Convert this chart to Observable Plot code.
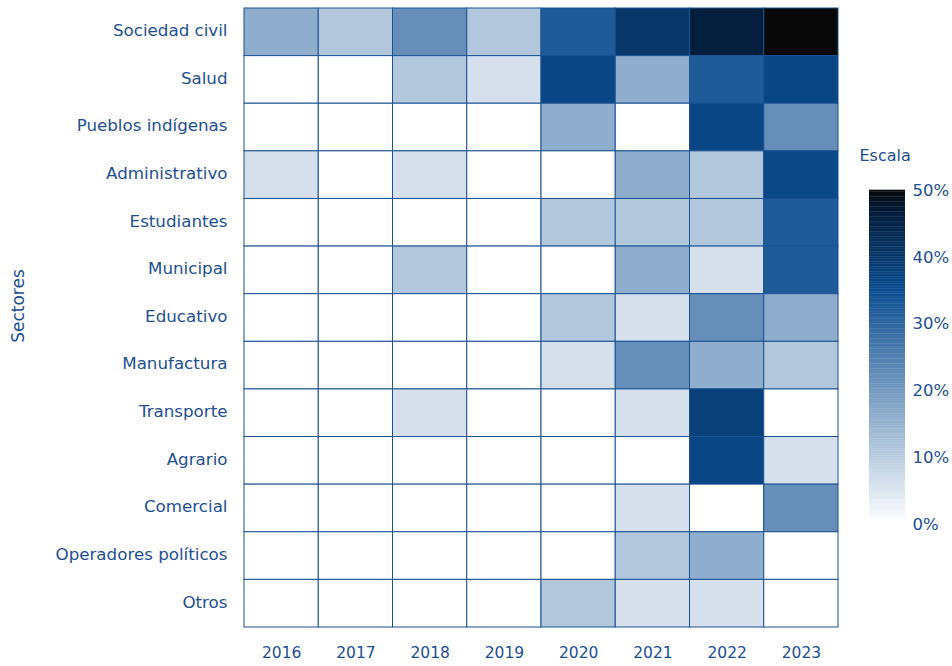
<!DOCTYPE html>
<html>
<head>
<meta charset="utf-8">
<script src="https://cdn.jsdelivr.net/npm/d3@7"></script>
<script src="https://cdn.jsdelivr.net/npm/@observablehq/plot@0.6"></script>
<style>
  html, body { margin: 0; padding: 0; background: #fff; }
  #wrap { position: relative; width: 952px; height: 666px; }
  #legend { position: absolute; left: 840px; top: 130px; }
  svg { overflow: visible; }
</style>
</head>
<body>
<div id="wrap"><div id="main"></div><div id="legend"></div></div>
<script>
const years = ["2016", "2017", "2018", "2019", "2020", "2021", "2022", "2023"];
const sectors = ["Sociedad civil", "Salud", "Pueblos indígenas", "Administrativo", "Estudiantes",
  "Municipal", "Educativo", "Manufactura", "Transporte", "Agrario", "Comercial",
  "Operadores políticos", "Otros"];

const sociedadCivil = [16, 11, 22, 11, 32, 40, 46, 50];
const salud = [0, 0, 11, 6, 36.5, 16, 32, 36.5];
const pueblosIndigenas = [0, 0, 0, 0, 16, 0, 36.5, 22];
const administrativo = [6, 0, 6, 0, 0, 16, 11, 36];
const estudiantes = [0, 0, 0, 0, 11, 11, 11, 32];
const municipal = [0, 0, 11, 0, 0, 16, 6, 32];
const educativo = [0, 0, 0, 0, 11, 6, 22, 16];
const manufactura = [0, 0, 0, 0, 6, 22, 16, 11];
const transporte = [0, 0, 6, 0, 0, 6, 38, 0];
const agrario = [0, 0, 0, 0, 0, 0, 36.5, 6];
const comercial = [0, 0, 0, 0, 0, 6, 0, 22];
const operadoresPoliticos = [0, 0, 0, 0, 0, 11, 16, 0];
const otros = [0, 0, 0, 0, 11, 6, 6, 0];

const seriesBySector = [sociedadCivil, salud, pueblosIndigenas, administrativo, estudiantes,
  municipal, educativo, manufactura, transporte, agrario, comercial, operadoresPoliticos, otros];

const legendTicks = [0, 10, 20, 30, 40, 50];

const data = sectors.flatMap((s, i) => years.map((y, j) => ({sector: s, year: y, value: seriesBySector[i][j]})));

const textColor = "#1d4f91";
const lineColor = "#1b5292";
const font = "'DejaVu Sans', sans-serif";
const colorOpts = {
  type: "linear",
  domain: [0, 35, 47, 50],
  range: ["#ffffff", "#0b4c8f", "#031a36", "#080808"],
  interpolate: "rgb",
  clamp: true
};

const main = Plot.plot({
  width: 952,
  height: 666,
  marginLeft: 244,
  marginRight: 114,
  marginTop: 8,
  marginBottom: 39,
  style: {fontFamily: font, fontSize: "16.7px", color: textColor, background: "transparent"},
  x: {domain: years, padding: 0, round: false, label: null, axis: null},
  y: {domain: sectors, padding: 0, round: false, label: null, axis: null},
  color: colorOpts,
  marks: [
    Plot.cell(data, {x: "year", y: "sector", fill: "value", stroke: lineColor, strokeWidth: 1, inset: 0}),
    Plot.axisX({tickSize: 0, tickPadding: 19, fontSize: 15.5, label: null}),
    Plot.axisY({tickSize: 0, tickPadding: 17, dy: -1.5, label: null}),
    Plot.text(["Sectores"], {frameAnchor: "left", rotate: -90, dx: -226, dy: -12,
      fill: textColor, fontSize: 17, textAnchor: "middle"})
  ]
});
document.getElementById("main").appendChild(main);

const steps = d3.range(0, 50, 0.25);
const legend = Plot.plot({
  width: 112,
  height: 410,
  marginLeft: 29,
  marginRight: 47,
  marginTop: 60,
  marginBottom: 16,
  style: {fontFamily: font, fontSize: "16.5px", color: textColor, background: "transparent"},
  y: {domain: [0, 50], axis: "right", ticks: legendTicks, tickSize: 0, tickPadding: 7,
      tickFormat: d => d + "%", label: null},
  color: colorOpts,
  marks: [
    Plot.rect(steps, {y1: d => d, y2: d => d + 0.3, fill: d => d}),
    Plot.text(["Escala"], {frameAnchor: "top-left", dx: -10, dy: -41, textAnchor: "start",
      fill: textColor, fontSize: 16})
  ]
});
document.getElementById("legend").appendChild(legend);
</script>
</body>
</html>
